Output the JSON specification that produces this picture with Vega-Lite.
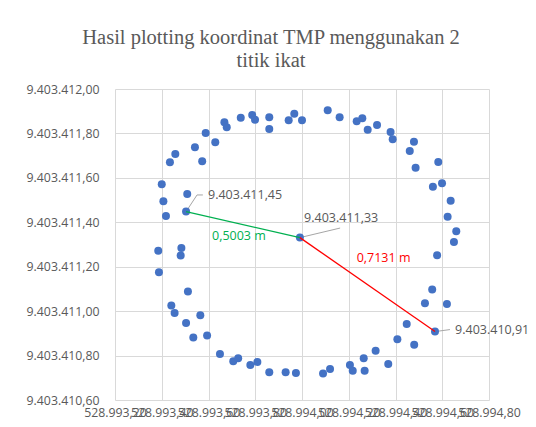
{
  "$schema": "https://vega.github.io/schema/vega-lite/v6.json",
  "width": 374,
  "height": 311,
  "autosize": {"type": "none"},
  "padding": {"left": 115, "top": 89, "right": 47, "bottom": 27},
  "background": "white",
  "title": {
    "text": ["Hasil plotting koordinat  TMP menggunakan  2", "titik ikat"],
    "font": "Liberation Serif",
    "fontSize": 20.5,
    "fontWeight": "normal",
    "color": "#595959",
    "anchor": "middle",
    "dx": -31,
    "offset": 12,
    "lineHeight": 23
  },
  "config": {
    "locale": {"number": {"decimal": ",", "thousands": ".", "grouping": [3], "currency": ["", ""]}},
    "view": {"stroke": null},
    "axis": {
      "labelFont": "Open Sans",
      "labelFontSize": 12.3,
      "labelColor": "#595959",
      "gridColor": "#d9d9d9",
      "gridWidth": 1,
      "domain": false,
      "ticks": false,
      "title": null
    }
  },
  "datasets": {
    "pts": [
      {"x": 528993.400, "y": 9403411.571},
      {"x": 528993.509, "y": 9403411.527},
      {"x": 528993.407, "y": 9403411.495},
      {"x": 528993.418, "y": 9403411.428},
      {"x": 528993.504, "y": 9403411.448},
      {"x": 528993.435, "y": 9403411.670},
      {"x": 528993.458, "y": 9403411.707},
      {"x": 528993.542, "y": 9403411.738},
      {"x": 528993.573, "y": 9403411.675},
      {"x": 528993.588, "y": 9403411.802},
      {"x": 528993.629, "y": 9403411.760},
      {"x": 528993.668, "y": 9403411.850},
      {"x": 528993.678, "y": 9403411.828},
      {"x": 528993.738, "y": 9403411.871},
      {"x": 528993.787, "y": 9403411.883},
      {"x": 528993.799, "y": 9403411.862},
      {"x": 528993.860, "y": 9403411.873},
      {"x": 528993.860, "y": 9403411.820},
      {"x": 528993.943, "y": 9403411.859},
      {"x": 528993.967, "y": 9403411.889},
      {"x": 528994.000, "y": 9403411.859},
      {"x": 528993.991, "y": 9403411.331},
      {"x": 528994.110, "y": 9403411.904},
      {"x": 528994.161, "y": 9403411.873},
      {"x": 528994.234, "y": 9403411.855},
      {"x": 528994.258, "y": 9403411.868},
      {"x": 528994.281, "y": 9403411.817},
      {"x": 528994.321, "y": 9403411.838},
      {"x": 528994.379, "y": 9403411.806},
      {"x": 528994.388, "y": 9403411.774},
      {"x": 528994.479, "y": 9403411.763},
      {"x": 528994.461, "y": 9403411.721},
      {"x": 528994.486, "y": 9403411.646},
      {"x": 528994.583, "y": 9403411.671},
      {"x": 528994.599, "y": 9403411.576},
      {"x": 528994.560, "y": 9403411.560},
      {"x": 528994.636, "y": 9403411.497},
      {"x": 528994.623, "y": 9403411.425},
      {"x": 528994.660, "y": 9403411.360},
      {"x": 528994.650, "y": 9403411.311},
      {"x": 528994.578, "y": 9403411.252},
      {"x": 528994.557, "y": 9403411.097},
      {"x": 528994.526, "y": 9403411.036},
      {"x": 528994.620, "y": 9403411.032},
      {"x": 528994.569, "y": 9403410.908},
      {"x": 528994.448, "y": 9403410.942},
      {"x": 528994.408, "y": 9403410.874},
      {"x": 528994.480, "y": 9403410.849},
      {"x": 528994.315, "y": 9403410.822},
      {"x": 528994.264, "y": 9403410.788},
      {"x": 528994.369, "y": 9403410.762},
      {"x": 528994.205, "y": 9403410.757},
      {"x": 528994.217, "y": 9403410.732},
      {"x": 528994.268, "y": 9403410.732},
      {"x": 528994.120, "y": 9403410.740},
      {"x": 528994.090, "y": 9403410.719},
      {"x": 528993.385, "y": 9403411.272},
      {"x": 528993.484, "y": 9403411.284},
      {"x": 528993.481, "y": 9403411.250},
      {"x": 528993.388, "y": 9403411.175},
      {"x": 528993.512, "y": 9403411.088},
      {"x": 528993.441, "y": 9403411.025},
      {"x": 528993.455, "y": 9403410.992},
      {"x": 528993.565, "y": 9403410.982},
      {"x": 528993.504, "y": 9403410.947},
      {"x": 528993.535, "y": 9403410.881},
      {"x": 528993.594, "y": 9403410.890},
      {"x": 528993.649, "y": 9403410.807},
      {"x": 528993.706, "y": 9403410.775},
      {"x": 528993.727, "y": 9403410.788},
      {"x": 528993.779, "y": 9403410.758},
      {"x": 528993.809, "y": 9403410.771},
      {"x": 528993.860, "y": 9403410.725},
      {"x": 528993.930, "y": 9403410.725},
      {"x": 528993.974, "y": 9403410.722}
    ],
    "segs": [
      {"seg": "a", "x": 528993.504, "y": 9403411.448, "x2": 528993.991, "y2": 9403411.331},
      {"seg": "b", "x": 528993.991, "y": 9403411.331, "x2": 528994.569, "y2": 9403410.908}
    ],
    "leaders": [
      {"x": 528993.504, "y": 9403411.448, "x2": 528993.551, "y2": 9403411.523},
      {"x": 528993.551, "y": 9403411.523, "x2": 528993.576, "y2": 9403411.523},
      {"x": 528993.991, "y": 9403411.331, "x2": 528994.163, "y2": 9403411.374},
      {"x": 528994.569, "y": 9403410.908, "x2": 528994.633, "y2": 9403410.917}
    ],
    "coordLabels": [
      {"label": "9.403.411,45", "x": 528993.598, "y": 9403411.523},
      {"label": "9.403.411,33", "x": 528994.009, "y": 9403411.419},
      {"label": "9.403.410,91", "x": 528994.655, "y": 9403410.915}
    ],
    "distLabels": [
      {"seg": "a", "label": "0,5003 m", "x": 528993.730, "y": 9403411.338},
      {"seg": "b", "label": "0,7131 m", "x": 528994.349, "y": 9403411.239}
    ]
  },
  "encoding": {
    "x": {
      "field": "x",
      "type": "quantitative",
      "scale": {"domain": [528993.2, 528994.8], "zero": false, "nice": false},
      "axis": {
        "values": [528993.2, 528993.4, 528993.6, 528993.8, 528994.0, 528994.2, 528994.4, 528994.6, 528994.8],
        "format": ",.2f",
        "labelOverlap": false,
        "labelFlush": false,
        "labelBound": false,
        "labelPadding": 6
      }
    },
    "y": {
      "field": "y",
      "type": "quantitative",
      "scale": {"domain": [9403410.6, 9403412.0], "zero": false, "nice": false},
      "axis": {
        "values": [9403410.6, 9403410.8, 9403411.0, 9403411.2, 9403411.4, 9403411.6, 9403411.8, 9403412.0],
        "format": ",.2f",
        "labelOverlap": false,
        "labelFlush": false,
        "labelPadding": 16
      }
    }
  },
  "layer": [
    {
      "data": {"name": "leaders"},
      "mark": {"type": "rule", "color": "#a6a6a6", "strokeWidth": 1},
      "encoding": {"x2": {"field": "x2"}, "y2": {"field": "y2"}}
    },
    {
      "data": {"name": "pts"},
      "mark": {"type": "circle", "size": 64, "color": "#4472C4", "opacity": 1}
    },
    {
      "data": {"name": "segs"},
      "mark": {"type": "rule", "strokeWidth": 1.3},
      "encoding": {
        "x2": {"field": "x2"},
        "y2": {"field": "y2"},
        "color": {"field": "seg", "type": "nominal", "scale": {"domain": ["a", "b"], "range": ["#00B050", "#FF0000"]}, "legend": null}
      }
    },
    {
      "data": {"name": "coordLabels"},
      "mark": {"type": "text", "align": "left", "baseline": "middle", "font": "Open Sans", "fontSize": 12.5, "color": "#595959"},
      "encoding": {"text": {"field": "label"}}
    },
    {
      "data": {"name": "distLabels"},
      "mark": {"type": "text", "align": "center", "baseline": "middle", "font": "Open Sans", "fontSize": 12.5},
      "encoding": {
        "text": {"field": "label"},
        "color": {"field": "seg", "type": "nominal", "scale": {"domain": ["a", "b"], "range": ["#00B050", "#FF0000"]}, "legend": null}
      }
    }
  ]
}
